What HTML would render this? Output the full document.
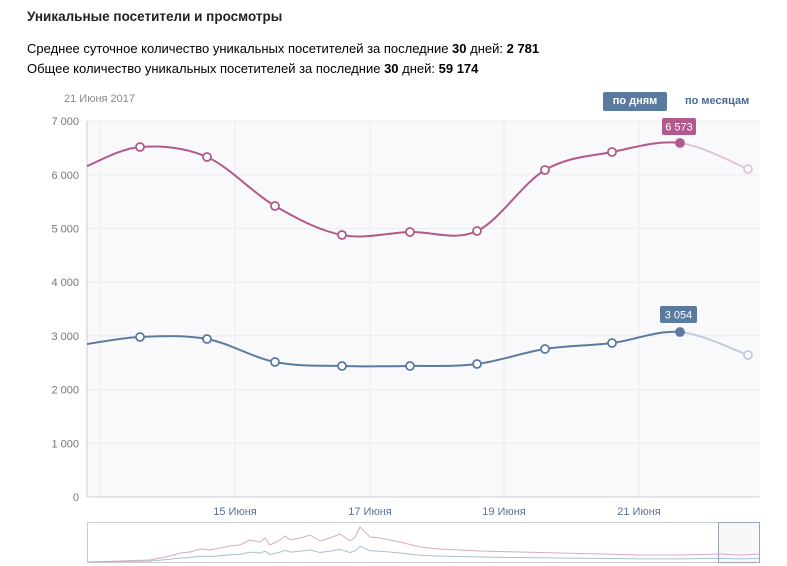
<!DOCTYPE html>
<html><head><meta charset="utf-8"><style>
body{margin:0;width:787px;height:566px;background:#fff;font-family:"Liberation Sans",sans-serif;overflow:hidden;position:relative}
.t{position:absolute;white-space:nowrap}
</style></head><body>
<div class="t" style="left:27px;top:9px;font-size:13.5px;font-weight:bold;color:#222">Уникальные посетители и просмотры</div>
<div class="t" style="left:27px;top:41px;font-size:13px;color:#000">Среднее суточное количество уникальных посетителей за последние <b>30</b> дней: <b>2 781</b></div>
<div class="t" style="left:27px;top:61px;font-size:13px;color:#000">Общее количество уникальных посетителей за последние <b>30</b> дней: <b>59 174</b></div>
<div class="t" style="left:64px;top:93px;font-size:11px;color:#888">21 Июня 2017</div>
<div class="t" style="left:603px;top:92px;width:64px;height:19px;background:#5b7aa0;color:#fff;font-size:11px;font-weight:bold;line-height:19px;text-align:center;border-radius:2px">по дням</div>
<div class="t" style="left:685px;top:95px;font-size:11px;font-weight:bold;color:#4a6a93">по месяцам</div>
<svg id="s" width="787" height="566" style="position:absolute;left:0;top:0"></svg>
<script>
const s=document.getElementById('s');let h='';
h+='<rect x="87" y="121" width="673" height="376" fill="#f9f9fb"/>';
for(let i=0;i<=7;i++){let y=497-i*53.7;h+=`<line x1="87" x2="760" y1="${y}" y2="${y}" stroke="#ebecef"/>`;
h+=`<text x="79" y="${y+4}" text-anchor="end" font-size="11" fill="#777" font-family="Liberation Sans">${i?i+' 000':'0'}</text>`;}
[100,235,370,504,639].forEach(x=>h+=`<line x1="${x}" x2="${x}" y1="121" y2="497" stroke="#ebecef"/>`);
h+='<line x1="87" x2="87" y1="121" y2="497" stroke="#ccd"/><line x1="87" x2="760" y1="497" y2="497" stroke="#ccd"/>';
[['15 Июня',235],['17 Июня',370],['19 Июня',504],['21 Июня',639]].forEach(a=>h+=`<text x="${a[1]}" y="515" text-anchor="middle" font-size="11" fill="#5b7290" font-family="Liberation Sans">${a[0]}</text>`);
h+='<rect x="87.5" y="522.5" width="672" height="40" fill="none" stroke="#c8ccd6"/>';
const xs=[87,140,207,275,342,410,477,545,612,680,748];
const P=[166,147,157,206,235,232,231,170,152,143,169],B=[344,337,339,362,366,366,364,349,343,332,355];
function path(ys,a,b){let d='';for(let i=a;i<b;i++){const p0=[xs[Math.max(i-1,0)],ys[Math.max(i-1,0)]],p1=[xs[i],ys[i]],p2=[xs[i+1],ys[i+1]],p3=[xs[Math.min(i+2,10)],ys[Math.min(i+2,10)]];
if(i==a)d+=`M${p1[0]},${p1[1]}`;d+=`C${p1[0]+(p2[0]-p0[0])/6},${p1[1]+(p2[1]-p0[1])/6} ${p2[0]-(p3[0]-p1[0])/6},${p2[1]-(p3[1]-p1[1])/6} ${p2[0]},${p2[1]}`;}return d;}
[[P,'#b05a8e','#e3c4d6'],[B,'#5b7aa0','#bfcde0']].forEach(([ys,c,l])=>{
h+=`<path d="${path(ys,0,9)}" fill="none" stroke="${c}" stroke-width="2"/>`;
h+=`<path d="${path(ys,9,10)}" fill="none" stroke="${l}" stroke-width="2"/>`;
xs.forEach((x,i)=>{if(i==0)return;h+=`<circle cx="${x}" cy="${ys[i]}" r="4" fill="${i==9?c:'#fff'}" stroke="${i==10?l:c}" stroke-width="1.8"/>`;});});
h+='<rect x="662" y="118" width="34" height="17" rx="2" fill="#b05a8e"/><text x="679" y="130.5" text-anchor="middle" font-size="11" fill="#fff" font-family="Liberation Sans">6 573</text>';
h+='<rect x="660" y="306" width="37" height="17" rx="2" fill="#5b7aa0"/><text x="678.5" y="318.5" text-anchor="middle" font-size="11" fill="#fff" font-family="Liberation Sans">3 054</text>';
const nx=[87,150,170,180,190,200,210,220,230,240,250,260,265,270,280,285,290,300,310,320,330,340,350,355,360,370,380,400,420,440,480,520,560,600,640,680,720,740,760];
const np=[562,560,556,553,552,549,550,548,546,545,540,542,538,545,540,536,540,538,535,541,538,534,541,537,527,537,538,542,547,549,551,552,553,554,555,555,554,555,554];
let a='',b='';nx.forEach((x,i)=>{a+=(i?'L':'M')+x+','+np[i];b+=(i?'L':'M')+x+','+(562-(562-np[i])*0.45);});
h+=`<path d="${a}" fill="none" stroke="#d9a9c4"/><path d="${b}" fill="none" stroke="#a9c0cf"/>`;
h+='<rect x="718.5" y="522.5" width="41" height="40" fill="rgba(200,205,220,0.15)" stroke="#9aa5bb"/>';
s.innerHTML=h;
</script>
</body></html>
